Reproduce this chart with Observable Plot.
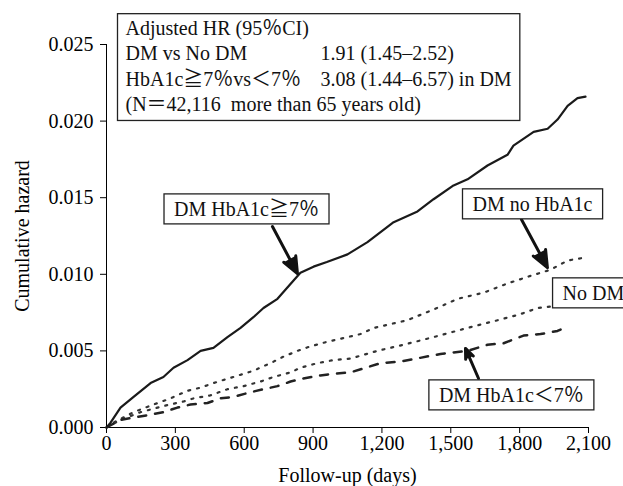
<!DOCTYPE html>
<html><head><meta charset="utf-8">
<script src="https://cdn.jsdelivr.net/npm/d3@7"></script>
<script src="https://cdn.jsdelivr.net/npm/@observablehq/plot@0.6"></script>
<style>
body{margin:0;background:#fff}
svg text{font-family:"Liberation Serif","Times New Roman","Noto Sans CJK JP",serif !important;}
</style>
</head><body><div id="chart"></div>
<script>
// ---- data (days, cumulative hazard) ----
const daysHigh = [0,17,61,118,192,248,292,353,410,466,527,584,640,684,745,815,845,902,960,1050,1137,1251,1355,1425,1512,1573,1660,1747,1773,1861,1922,1965,2009,2052,2087];
const hazHigh  = [0,0.0003,0.0013,0.0020,0.0029,0.0033,0.0039,0.0044,0.0050,0.0052,0.0059,0.0065,0.0072,0.0078,0.0084,0.0096,0.0101,0.0105,0.0108,0.0113,0.0121,0.0134,0.0141,0.0149,0.0158,0.0162,0.0171,0.0178,0.0184,0.0193,0.0195,0.0201,0.0210,0.0215,0.0216];

const daysNoA1c = [0,40,118,205,279,353,410,466,553,640,728,767,832,889,963,1050,1107,1165,1310,1425,1530,1643,1747,1848,1935,2009,2087];
const hazNoA1c  = [0,0.0004,0.0010,0.0015,0.0019,0.0024,0.0026,0.0029,0.0033,0.0037,0.0043,0.0046,0.0050,0.0053,0.0056,0.0059,0.0061,0.0065,0.0070,0.0077,0.0084,0.0088,0.0094,0.0099,0.0103,0.0109,0.0111];

const daysNoDM = [0,61,148,248,336,379,453,527,597,671,728,802,845,919,989,1063,1180,1294,1425,1573,1704,1804,1878,1935];
const hazNoDM  = [0,0.0005,0.0010,0.0014,0.0017,0.0019,0.0021,0.0025,0.0027,0.0030,0.0033,0.0036,0.0039,0.0042,0.0044,0.0045,0.0050,0.0054,0.0059,0.0065,0.0070,0.0074,0.0078,0.0079];

const daysLow = [0,61,179,248,309,366,440,497,553,627,684,745,802,858,932,989,1063,1194,1281,1455,1573,1660,1730,1817,1891,1965,2009];
const hazLow  = [0,0.0005,0.0008,0.0010,0.0013,0.0015,0.0016,0.0019,0.0020,0.0023,0.0025,0.0027,0.0030,0.0032,0.0034,0.0035,0.0036,0.0042,0.0043,0.0048,0.0050,0.0054,0.0055,0.0060,0.0061,0.0063,0.0066];

const xTicks = [0,300,600,900,1200,1500,1800,2100];
const yTicks = [0,0.005,0.010,0.015,0.020,0.025];

const seriesNames = ["DM HbA1c≧7％","DM no HbA1c","No DM","DM HbA1c＜7％"];
const legendCol1 = ["Adjusted HR (95％CI)","DM vs No DM","HbA1c≧7％vs＜7％","(N＝42,116  more than 65 years old)"];
const legendCol2 = ["1.91 (1.45–2.52)","3.08 (1.44–6.57) in DM"];

// annotation anchors (data units)
const labelPos = [
  {x:610, y:0.01423, anchor:"middle"},
  {x:1856, y:0.01456, anchor:"middle"},
  {x:1987, y:0.00875, anchor:"start"},
  {x:1764, y:0.00209, anchor:"middle"}
];
const arrowPos = [
  {x1:723, y1:0.01312, x2:832, y2:0.01005},
  {x1:1808, y1:0.01358, x2:1921, y2:0.01044},
  {x1:1621, y1:0.0032, x2:1564, y2:0.00516}
];

const rows = (days, haz) => days.map((d, i) => ({day: d, haz: haz[i]}));
const labels = seriesNames.map((t, i) => ({text: t, ...labelPos[i]}));

const FONT = '"Liberation Serif", "Times New Roman", "Noto Sans CJK JP", serif';
const txt = {fontFamily: FONT, fontSize: 20, fill: "#111"};

const plot = Plot.plot({
  width: 623, height: 486,
  marginLeft: 106, marginRight: 35, marginTop: 44, marginBottom: 59,
  style: {fontFamily: FONT, fontSize: "20px", color: "#000", background: "#fff", overflow: "visible"},
  x: {domain: [0, 2100]},
  y: {domain: [0, 0.025]},
  marks: [
    Plot.axisX({ticks: xTicks, tickFormat: d3.format(","), tickSize: 6, tickPadding: 2, label: "Follow-up (days)", labelAnchor: "center", labelArrow: "none", labelOffset: 54, fontSize: 20, fontFamily: FONT}),
    Plot.axisY({ticks: yTicks, tickFormat: d3.format(".3f"), tickSize: 6, tickPadding: 7, label: "Cumulative hazard", labelAnchor: "center", labelArrow: "none", labelOffset: 92, fontSize: 20, fontFamily: FONT}),
    Plot.ruleX([0]),
    Plot.ruleY([0]),
    Plot.line(rows(daysNoA1c, hazNoA1c), {x: "day", y: "haz", stroke: "#333", strokeWidth: 2.2, strokeDasharray: "2,7"}),
    Plot.line(rows(daysNoDM, hazNoDM), {x: "day", y: "haz", stroke: "#333", strokeWidth: 2.2, strokeDasharray: "2,7"}),
    Plot.line(rows(daysLow, hazLow), {x: "day", y: "haz", stroke: "#222", strokeWidth: 2.5, strokeDasharray: "8,9"}),
    Plot.line(rows(daysHigh, hazHigh), {x: "day", y: "haz", stroke: "#1a1a1a", strokeWidth: 2.2}),
    Plot.arrow(arrowPos, {x1: "x1", y1: "y1", x2: "x2", y2: "y2", stroke: "#111", strokeWidth: 3, headLength: 13, headAngle: 45}),
    Plot.text(labels.filter(d => d.anchor === "middle"), {x: "x", y: "y", text: "text", textAnchor: "middle", ...txt}),
    Plot.text(labels.filter(d => d.anchor === "start"), {x: "x", y: "y", text: "text", textAnchor: "start", ...txt}),
    Plot.text([legendCol1.join("\n")], {frameAnchor: "top-left", dx: 19, dy: -28, lineAnchor: "top", textAnchor: "start", lineHeight: 1.28, ...txt}),
    Plot.text([legendCol2.join("\n")], {frameAnchor: "top-left", dx: 214, dy: -28 + 25.6, lineAnchor: "top", textAnchor: "start", lineHeight: 1.28, ...txt})
  ]
});
document.getElementById("chart").append(plot);

// filled arrow heads (closing the head sub-path fills the triangle)
plot.querySelectorAll('g[aria-label="arrow"] path').forEach(p => {
  p.setAttribute("fill", "#111");
  p.setAttribute("stroke-linejoin", "miter");
});

// boxes around annotations and legend, sized from rendered text
const NS = "http://www.w3.org/2000/svg";
const sr = plot.getBoundingClientRect();
function boxBefore(node, b, pl, pr, pt, pb) {
  const r = document.createElementNS(NS, "rect");
  r.setAttribute("x", b.left - sr.left - pl);
  r.setAttribute("y", b.top - sr.top - pt);
  r.setAttribute("width", b.width + pl + pr);
  r.setAttribute("height", b.height + pt + pb);
  r.setAttribute("fill", "#fff");
  r.setAttribute("stroke", "#222");
  r.setAttribute("stroke-width", 1.3);
  let g = node; while (g.parentNode !== plot) g = g.parentNode;
  plot.insertBefore(r, g);
}
const texts = Array.from(plot.querySelectorAll("text"));
texts.filter(t => seriesNames.includes(t.textContent)).forEach(t => boxBefore(t, t.getBoundingClientRect(), 10, 10, 4, 4));
const leg = texts.filter(t => t.textContent.includes("Adjusted") || t.textContent.includes("1.91"));
if (leg.length) {
  const bs = leg.map(t => t.getBoundingClientRect());
  const L = Math.min(...bs.map(b => b.left)), T = Math.min(...bs.map(b => b.top));
  const R = Math.max(...bs.map(b => b.right)), B = Math.max(...bs.map(b => b.bottom));
  boxBefore(leg[0], {left: L, top: T, width: R - L, height: B - T}, 8, 8, 3, 4);
}
</script>
</body></html>
